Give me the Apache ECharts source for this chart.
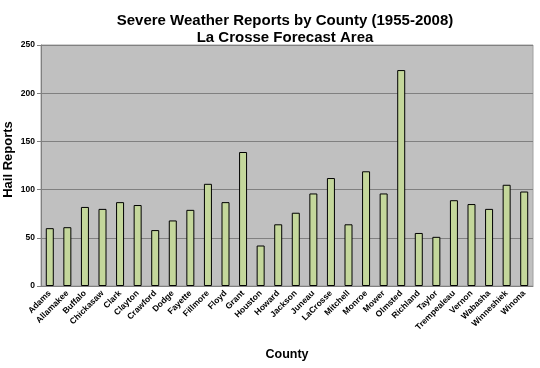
<!DOCTYPE html>
<html><head><meta charset="utf-8">
<script src="https://cdn.jsdelivr.net/npm/echarts@6/dist/echarts.min.js"></script>
<style>html,body{margin:0;padding:0;background:#fff}#c{width:540px;height:368px}</style>
</head><body><div id="c"></div>
<script>
const counties = ["Adams","Allamakee","Buffalo","Chickasaw","Clark","Clayton","Crawford","Dodge","Fayette","Fillmore","Floyd","Grant","Houston","Howard","Jackson","Juneau","LaCrosse","Mitchell","Monroe","Mower","Olmsted","Richland","Taylor","Trempealeau","Vernon","Wabasha","Winneshiek","Winona"];
const hailReports = [60,61,82,80,87,84,58,68,79,106,87,139,42,64,76,96,112,64,119,96,224,55,51,89,85,80,105,98];
const yTicks = {min:0,max:250,interval:50};
const F = '"Liberation Sans", Arial, sans-serif';
const chart = echarts.init(document.getElementById('c'));
chart.setOption({
  animation:false,
  backgroundColor:'#fff',
  title:{text:'Severe Weather Reports by County (1955-2008)\nLa Crosse Forecast Area',left:280,textAlign:'center',top:7,
    textStyle:{fontFamily:F,fontSize:15,fontWeight:'bold',color:'#000',lineHeight:17}},
  grid:{left:41,right:7,top:45,bottom:82,outerBoundsMode:'none',containLabel:false,show:true,backgroundColor:'#c0c0c0',borderColor:'#a0a0a0',borderWidth:1},
  xAxis:{type:'category',data:counties,name:'County',nameLocation:'middle',nameGap:62,nameMoveOverlap:false,
    nameTextStyle:{fontFamily:F,fontSize:12.5,fontWeight:'bold',color:'#000'},
    axisLine:{lineStyle:{color:'#808080'}},
    axisTick:{alignWithLabel:false,length:4,lineStyle:{color:'#808080'}},
    axisLabel:{rotate:45,interval:0,fontFamily:F,fontSize:8.5,fontWeight:'bold',color:'#000',margin:6}},
  yAxis:{type:'value',min:yTicks.min,max:yTicks.max,interval:yTicks.interval,name:'Hail Reports',nameLocation:'middle',nameGap:26,nameMoveOverlap:false,
    nameTextStyle:{fontFamily:F,fontSize:13,fontWeight:'bold',color:'#000',padding:[0,0,0,12]},
    axisLine:{show:true,lineStyle:{color:'#808080'}},
    axisTick:{show:true,length:4,lineStyle:{color:'#808080'}},
    splitLine:{lineStyle:{color:'#808080',width:1}},
    axisLabel:{fontFamily:F,fontSize:8.5,fontWeight:'bold',color:'#000',margin:6}},
  series:[{type:'bar',data:hailReports,barWidth:8,
    itemStyle:{color:'#c4d79b',borderColor:'#000',borderWidth:1}}]
});
</script></body></html>
